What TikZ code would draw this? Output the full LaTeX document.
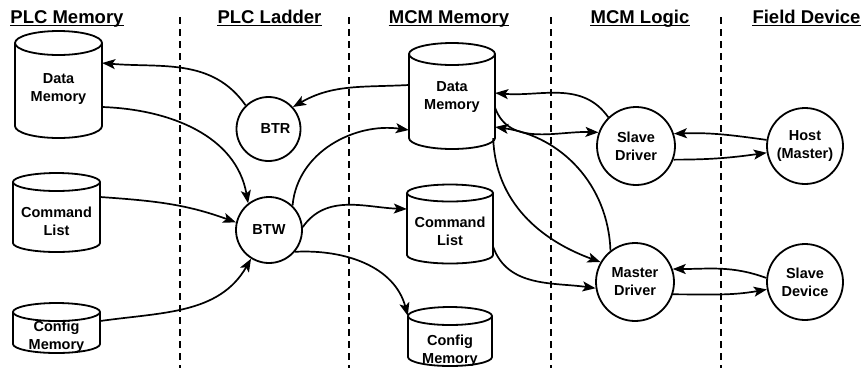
\documentclass[tikz,border=0pt]{standalone}
\usepackage{fontspec}
\setmainfont{Liberation Sans}
\usetikzlibrary{arrows.meta}
\newcommand\mycyl[8]{%
  \draw[shp] (#2-#5,-#3) -- (#2-#5,-#4) arc[start angle=180,end angle=360,x radius=#5,y radius=#6] -- (#2+#5,-#3);
  \draw[shp] (#2,-#3) ellipse[x radius=#5,y radius=#6];
  \node[box,minimum width={2*#5},minimum height={#4-#3}] (#1) at (#2,{-(#3+#4)/2}) {};
  \node[lbl] (#1t) at (#2,-#7) {#8};
}
\begin{document}
\begin{tikzpicture}[x=1pt,y=1pt,
  shp/.style={line width=1.8pt},
  box/.style={inner sep=0pt,draw=none},
  lbl/.style={font=\fontsize{14.5}{18}\selectfont\bfseries,align=center,inner sep=0pt},
  circ/.style={circle,draw,line width=1.8pt,inner sep=0pt,font=\fontsize{14.5}{18}\selectfont\bfseries,align=center},
  head/.style={font=\fontsize{18.5}{22}\selectfont\bfseries,inner sep=0pt,anchor=base},
  uline/.style={line width=1.6pt},
  sep/.style={line width=1.8pt,dash pattern=on 7pt off 5pt},
  conn/.style={line width=1.7pt,-{Stealth[length=13pt,width=10pt,inset=3pt]}},
]
\useasboundingbox (0,0) rectangle (864,-368);
% headings
\node[head] (h1) at (67,-23) {PLC Memory};
\node[head] (h2) at (269.5,-23) {PLC Ladder};
\node[head] (h3) at (449,-23) {MCM Memory};
\node[head] (h4) at (640,-23) {MCM Logic};
\node[head] (h5) at (806.5,-23) {Field Device};
\foreach \h in {h1,h2,h3,h4,h5}
  \draw[uline] ([yshift=-2.5pt]\h.base west) -- ([yshift=-2.5pt]\h.base east);
% separators
\foreach \x in {180,349,551,721}
  \draw[sep] (\x,-17) -- (\x,-368);
% cylinders
\mycyl{pdm}{58.5}{43}{126}{43.5}{12}{89}{Data\\Memory}
\mycyl{pcl}{56.5}{182}{243}{43.5}{9}{221}{Command\\List}
\mycyl{pcf}{56.5}{312}{344}{43.5}{9}{337}{Config\\Memory}
\mycyl{mdm}{452}{54}{138}{43}{11}{97.5}{Data\\Memory}
\mycyl{mcl}{450}{193}{255}{43}{8.5}{231}{Command\\List}
\mycyl{mcf}{450}{316}{357}{42}{9}{351}{Config\\Memory}
% circles
\node[circ,minimum size=64] (btr) at (268.5,-129) {\hspace*{14pt}BTR};
\node[circ,minimum size=66] (btw) at (269,-230) {BTW};
\node[circ,minimum size=78] (sd) at (636,-146) {Slave\\Driver};
\node[circ,minimum size=76] (host) at (805,-146) {Host\\(Master)};
\node[circ,minimum size=78] (md) at (635,-282) {Master\\Driver};
\node[circ,minimum size=76] (sdev) at (805,-282) {Slave\\Device};
% connectors
\draw[conn] (btr.134) to[out=125,in=-5] ([yshift=21.5pt]pdm.east);
\draw[conn] ([yshift=11pt]mdm.west) to[out=183,in=30] (btr.42);
\draw[conn] ([yshift=-22.5pt]pdm.east) to[out=-2,in=100] (btw.128);
\draw[conn] ([yshift=15.5pt]pcl.east) to[out=-4,in=160] (btw.167);
\draw[conn] ([yshift=7pt]pcf.east) to[out=8,in=240] (btw.238);
\draw[conn] (btw.46) to[out=85,in=172] ([yshift=-34pt]mdm.west);
\draw[conn] (btw.5) to[out=55,in=178] ([yshift=15pt]mcl.west);
\draw[conn] (btw.-40) to[out=3,in=105] (mcf.north west);
\draw[conn] ([yshift=-23pt]mcl.east) to[out=-70,in=172] (md.189);
\draw[conn] ([xshift=-2pt]mdm.south east) to[out=-88,in=160] (md.150);
\draw[conn] (md.128) to[out=92,in=-8] ([yshift=-31pt]mdm.east);
\draw[conn] ([yshift=-12pt]mdm.east) to[out=-70,in=178] (sd.160);
\draw[conn] (sd.134) to[out=125,in=-5] ([yshift=3pt]mdm.east);
\draw[conn] (host.171) to[out=172,in=2] (sd.18);
\draw[conn] (sd.-20) to[out=0,in=188] (host.190);
\draw[conn] (sdev.174) to[out=160,in=0] (md.19);
\draw[conn] (md.-18) to[out=0,in=190] (sdev.191);
\end{tikzpicture}
\end{document}
